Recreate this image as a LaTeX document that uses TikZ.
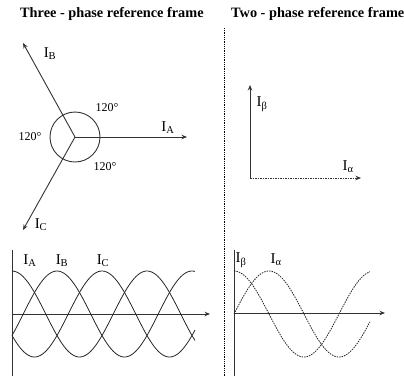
\documentclass[tikz,border=0pt]{standalone}
\usepackage{fontspec}
\setmainfont{Liberation Serif}
\usetikzlibrary{arrows.meta,positioning}

\begin{document}
\begin{tikzpicture}[x=1pt, y=-1pt,
    vec/.style={-{Stealth[length=5.5pt,width=4.5pt]}, line width=0.9pt, draw=black!80},
    axis/.style={line width=0.9pt, draw=black!80},
    wave/.style={line width=0.8pt, draw=black!85},
    dwave/.style={wave, dash pattern=on 1.5pt off 1pt},
    lbl/.style={font=\fontsize{15}{17}\selectfont, inner sep=0pt},
    ang/.style={font=\fontsize{12}{14}\selectfont, inner sep=0pt},
    title/.style={font=\fontsize{14.3}{16}\selectfont\bfseries, inner sep=0pt, anchor=base west}
  ]
    \useasboundingbox (0,0) rectangle (404,376);
    % titles and divider
    \node[title] (t3) at (20,17) {Three - phase reference frame};
    \node[title] (t2) at (231,17) {Two - phase reference frame};
    \coordinate (d0) at (224,28);
    \coordinate (d1) at (224,376);
    \draw[line width=0.8pt, densely dotted] (d0) -- (d1);

    % three-phase vectors
    \coordinate (o3) at (75,137);
    \coordinate (ia) at (187,137);
    \coordinate (ib) at (23,43);
    \coordinate (ic) at (23,230);
    \draw[axis] (o3) circle[radius=25pt];
    \draw[vec] (o3) -- (ia);
    \draw[vec] (o3) -- (ib);
    \draw[vec] (o3) -- (ic);
    \node[lbl] (la) at (168,128) {I\textsubscript{A}};
    \node[lbl] (lb) at (50,54) {I\textsubscript{B}};
    \node[lbl] (lc) at (41,225) {I\textsubscript{C}};
    \node[ang] (a1) at (107,108) {120°};
    \node[ang] (a2) at (30,137) {120°};
    \node[ang] (a3) at (105,167) {120°};

    % two-phase vectors
    \coordinate (o2) at (250,178);
    \coordinate (ibeta) at (250,85);
    \coordinate (ialpha) at (361,178);
    \draw[vec] (o2) -- (ibeta);
    \draw[vec, dash pattern=on 1.5pt off 1pt] (o2) -- (ialpha);
    \node[lbl] (lbeta) at (262,104) {I\textsubscript{β}};
    \node[lbl] (lalpha) at (348,167) {I\textsubscript{α}};

    % three-phase waves
    \coordinate (yl0) at (12,376);
    \coordinate (yl1) at (12,250);
    \coordinate (xl0) at (12,314);
    \coordinate (xl1) at (210,314);
    \draw[axis] (yl0) -- (yl1);
    \draw[vec] (xl0) -- (xl1);
    \foreach \ph in {0,120,240}
      \draw[wave] plot[domain=12:195, samples=90, smooth] (\x,{314-43*cos((\x-12)/135*360-\ph)});
    \node[lbl] (wa) at (30,261) {I\textsubscript{A}};
    \node[lbl] (wb) at (62,261) {I\textsubscript{B}};
    \node[lbl] (wc) at (103,261) {I\textsubscript{C}};

    % two-phase waves
    \coordinate (yr0) at (234,376);
    \coordinate (yr1) at (234,250);
    \coordinate (xr0) at (234,313);
    \coordinate (xr1) at (385,313);
    \draw[axis] (yr0) -- (yr1);
    \draw[vec] (xr0) -- (xr1);
    \draw[dwave] plot[domain=234:370, samples=80, smooth] (\x,{314-43*cos((\x-234)/140*360)});
    \draw[dwave] plot[domain=234:370, samples=80, smooth] (\x,{314-43*sin((\x-234)/140*360)});
    \node[lbl] (wbeta) at (241,260) {I\textsubscript{β}};
    \node[lbl] (walpha) at (276,260) {I\textsubscript{α}};
  \end{tikzpicture}
\end{document}
